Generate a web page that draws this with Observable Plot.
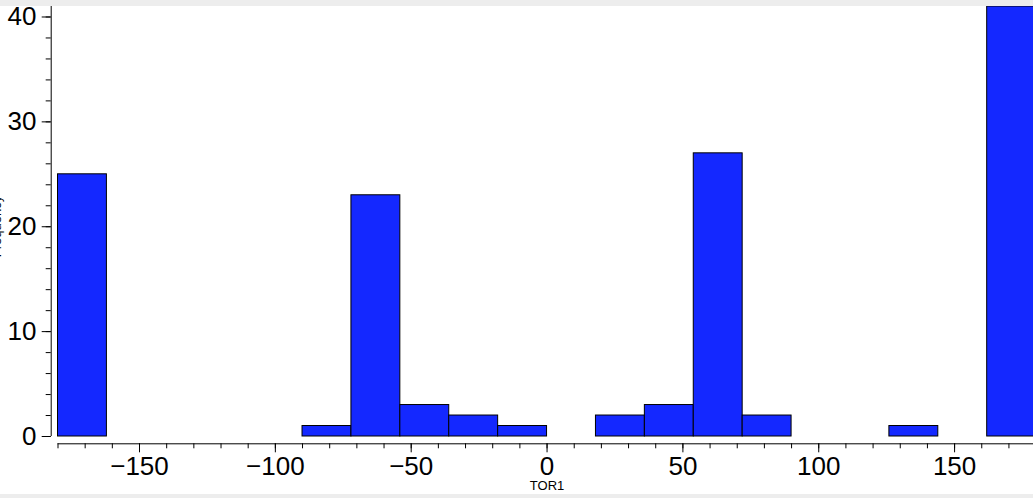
<!DOCTYPE html>
<html>
<head>
<meta charset="utf-8">
<script src="https://cdn.jsdelivr.net/npm/d3@7"></script>
<script src="https://cdn.jsdelivr.net/npm/@observablehq/plot@0.6"></script>
<style>
  html, body { margin: 0; padding: 0; background: #ededed; overflow: hidden; }
  #chart { padding-top: 6px; width: 1033px; }
  #chart svg { display: block; max-width: none; }
</style>
</head>
<body>
<div id="chart"></div>
<script>
// Histogram of TOR1 (bin width 18 degrees)
const binStart = [-180, -90, -72, -54, -36, -18, 18, 36, 54, 72, 126, 162];
const binWidth = 18;
const counts = [25, 1, 23, 3, 2, 1, 2, 3, 27, 2, 1, 41];
const xTicks = [-150, -100, -50, 0, 50, 100, 150];
const xMinorTicks = d3.range(-180, 181, 10);
const yTicks = [0, 10, 20, 30, 40];
const yMinorTicks = d3.range(0, 41, 2);
const xLabel = "TOR1";
const yLabel = "Frequency";

const bins = binStart.map((s, i) => ({x1: s, x2: s + binWidth, n: counts[i]}));
const fmt = d => d < 0 ? "\u2212" + Math.abs(d) : String(d);

const plot = Plot.plot({
  width: 1033,
  height: 488,
  marginLeft: 57.5,
  marginRight: -2.6,
  marginTop: 0,
  marginBottom: 58,
  x: {domain: [-180, 180]},
  y: {domain: [0, 41]},
  style: {fontFamily: "'Liberation Sans', Arial, sans-serif", fontSize: "26px", background: "white", color: "black"},
  marks: [
    Plot.rectY(bins, {x1: "x1", x2: "x2", y1: 0, y2: "n", fill: "#1428ff", stroke: "black", strokeWidth: 1}),
    Plot.ruleY([0], {dy: 7.3, stroke: "black"}),
    Plot.axisX({ticks: xTicks, tickSize: 9, tickPadding: 4, dy: 7.3, tickFormat: fmt, label: null, fontSize: 26}),
    Plot.axisX({ticks: xMinorTicks, tickSize: 5, dy: 7.3, tickFormat: () => "", label: null}),
    Plot.ruleX([-180], {dx: -6.8, stroke: "black"}),
    Plot.axisY({ticks: yTicks, tickSize: 9, tickPadding: 5.7, dx: -6.8, label: null, fontSize: 26}),
    Plot.axisY({ticks: yMinorTicks, tickSize: 5, dx: -6.8, tickFormat: () => "", label: null}),
    Plot.text([xLabel], {frameAnchor: "bottom", dy: 49.7, fontSize: 13, lineAnchor: "middle"}),
    Plot.text([yLabel], {frameAnchor: "left", dx: -61.2, dy: 5, rotate: -90, fontSize: 13, lineAnchor: "middle", textAnchor: "middle"})
  ]
});
document.getElementById("chart").appendChild(plot);
</script>
</body>
</html>
